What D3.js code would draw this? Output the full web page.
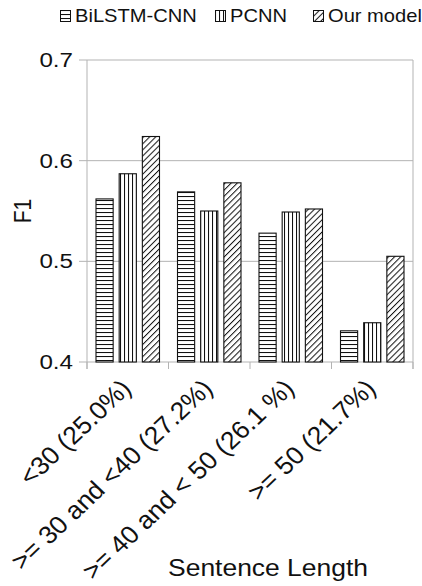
<!DOCTYPE html>
<html><head><meta charset="utf-8">
<script src="https://cdn.jsdelivr.net/npm/d3@7"></script>
<style>body{margin:0;background:#fff}svg{display:block;font-family:"Liberation Sans",Arial,sans-serif}</style>
</head><body>
<script>
const categories = ["<30 (25.0%)", ">= 30 and <40 (27.2%)", ">= 40 and < 50 (26.1 %)", ">= 50 (21.7%)"];
const seriesNames = ["BiLSTM-CNN", "PCNN", "Our model"];
const bilstm = [0.562, 0.569, 0.528, 0.431];
const pcnn = [0.587, 0.550, 0.549, 0.439];
const ours = [0.624, 0.578, 0.552, 0.505];
const yTicks = [0.4, 0.5, 0.6, 0.7];
const series = [bilstm, pcnn, ours];

const W = 422, H = 586;
const SX = 1.15;
const SXL = 1.06;
const m = {left: 87, right: 9, top: 60, bottom: 224};
const svg = d3.select("body").append("svg").attr("width", W).attr("height", H);
const defs = svg.append("defs");
const p0 = defs.append("pattern").attr("id","pat0").attr("patternUnits","userSpaceOnUse").attr("width",8).attr("height",4);
p0.append("rect").attr("width",8).attr("height",4).attr("fill","#fff");
p0.append("line").attr("x1",0).attr("x2",8).attr("y1",0.5).attr("y2",0.5).attr("stroke","#111").attr("stroke-width",1.1);
const p1 = defs.append("pattern").attr("id","pat1").attr("patternUnits","userSpaceOnUse").attr("width",4).attr("height",8);
p1.append("rect").attr("width",4).attr("height",8).attr("fill","#fff");
p1.append("line").attr("y1",0).attr("y2",8).attr("x1",0.5).attr("x2",0.5).attr("stroke","#111").attr("stroke-width",1.1);
const p2 = defs.append("pattern").attr("id","pat2").attr("patternUnits","userSpaceOnUse").attr("width",4.3).attr("height",4.3).attr("patternTransform","rotate(45)");
p2.append("rect").attr("width",4.3).attr("height",4.3).attr("fill","#fff");
p2.append("line").attr("x1",0.5).attr("x2",0.5).attr("y1",0).attr("y2",4.3).attr("stroke","#111").attr("stroke-width",1);

const x0 = d3.scaleBand().domain(categories).range([m.left, W - m.right]).paddingInner(0).paddingOuter(0);
const x1 = d3.scaleBand().domain(d3.range(3)).range([9, x0.bandwidth() - 9]).paddingInner(0.26).paddingOuter(0);
const y = d3.scaleLinear().domain([0.4, 0.7]).range([H - m.bottom, m.top]);

const g = svg.append("g");
g.selectAll(".grid").data(yTicks).join("line")
  .attr("x1", m.left - 8).attr("x2", W - m.right)
  .attr("y1", d => y(d)).attr("y2", d => y(d))
  .attr("stroke", "#b3b3b3").attr("stroke-width", 1);
g.append("line").attr("x1", m.left).attr("x2", m.left).attr("y1", y(0.7)).attr("y2", y(0.4) + 7).attr("stroke","#b3b3b3");
g.append("line").attr("x1", W-m.right).attr("x2", W-m.right).attr("y1", y(0.7)).attr("y2", y(0.4) + 7).attr("stroke","#b3b3b3");
svg.selectAll(".yl").data(yTicks).join("text")
  .attr("transform", d => `translate(73,${y(d) + 7}) scale(${SX},1)`)
  .attr("text-anchor", "end").attr("font-size", 21).attr("fill", "#111")
  .text(d => d3.format(".1f")(d));

const bounds = categories.map(c => x0(c)).concat([W - m.right]);
g.selectAll(".xt").data(bounds).join("line")
  .attr("x1", d => d).attr("x2", d => d).attr("y1", y(0.4)).attr("y2", y(0.4) + 7).attr("stroke","#b3b3b3");

categories.forEach((c, i) => {
  series.forEach((s, j) => {
    svg.append("rect")
      .attr("x", x0(c) + x1(j)).attr("width", x1.bandwidth())
      .attr("y", y(s[i])).attr("height", y(0.4) - y(s[i]))
      .attr("fill", `url(#pat${j})`).attr("stroke", "#111").attr("stroke-width", 1.1);
  });
});

svg.selectAll(".xl").data(categories).join("text")
  .attr("transform", d => `translate(${x0(d) + x0.bandwidth()/2 + 5},${y(0.4) + 28}) scale(${SXL},1) rotate(-45)`)
  .attr("text-anchor", "end").attr("font-size", 25).attr("fill","#111")
  .text(d => d);

svg.append("text").attr("transform", `translate(268,576) scale(${SX},1)`).attr("text-anchor","middle").attr("font-size", 23).attr("fill","#111").text("Sentence Length");
svg.append("text").attr("transform", `translate(31,${(y(0.4)+y(0.7))/2}) scale(${SX},1) rotate(-90)`).attr("text-anchor","middle").attr("font-size", 21).attr("fill","#111").text("F1");

const legX = [60, 215, 313];
seriesNames.forEach((n, j) => {
  const lg = svg.append("g").attr("transform", `translate(${legX[j]},10)`);
  lg.append("rect").attr("x", 0.5).attr("y", 0.5).attr("width", 10).attr("height", 11)
    .attr("fill", `url(#pat${j})`).attr("stroke", "#111").attr("stroke-width", 1);
  lg.append("text").attr("transform", `translate(15,11.7) scale(${SX},1)`).attr("font-size", 17.5).attr("fill","#111").text(n);
});
</script>
</body></html>
